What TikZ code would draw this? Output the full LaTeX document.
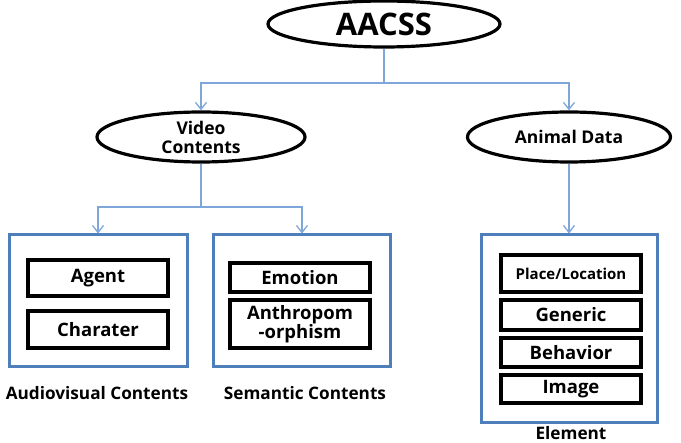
\documentclass[tikz,border=0pt]{standalone}
\usepackage{fontspec}
\setmainfont{Open Sans}
\usepackage{tikz}
\usetikzlibrary{arrows.meta,shapes.geometric}
\definecolor{link}{HTML}{7EA6D8}
\definecolor{frame}{HTML}{4F7FBA}

\begin{document}
\begin{tikzpicture}[x=1pt,y=-1pt,
  oval/.style={draw, ellipse, line width=3.2pt, inner sep=0pt, align=center, font=\bfseries\fontsize{17.5}{19}\selectfont},
  outer/.style={draw=frame, line width=3pt, inner sep=0pt},
  item/.style={draw, line width=3.2pt, minimum width=140pt, inner sep=0pt, align=center, font=\bfseries\fontsize{18.5}{19}\selectfont},
  arr/.style={-{Straight Barb[length=7pt,width=11pt]}, link, line width=1.3pt},
  lab/.style={font=\bfseries\fontsize{17.2}{18}\selectfont}]
  \useasboundingbox (0,0) rectangle (681,443);
  \node[oval, minimum width=232pt, minimum height=46pt, font=\bfseries\fontsize{31}{32}\selectfont] (aacss) at (384,24) {AACSS};
  \node[oval, minimum width=208pt, minimum height=50pt] (video) at (201,137) {Video\\Contents};
  \node[oval, minimum width=203pt, minimum height=50pt] (animal) at (569,137) {Animal Data};
  % outer boxes
  \node[outer, minimum width=178pt, minimum height=132pt] (av) at (98,301) {};
  \node[outer, minimum width=177pt, minimum height=132pt] (sem) at (302,301) {};
  \node[outer, minimum width=176pt, minimum height=188pt] (elem) at (569,329) {};
  % items
  \node[item, minimum height=36pt] (agent) at (98,278) {Agent};
  \node[item, minimum height=37pt] (charater) at (98,329.5) {Charater};
  \node[item, minimum height=29pt] (emotion) at (300,277.5) {Emotion};
  \node[item, minimum height=48pt, font=\bfseries\fontsize{18.5}{17}\selectfont] (anthro) at (300,324) {Anthropom\\-orphism};
  \node[item, minimum height=37pt, font=\bfseries\fontsize{15}{16}\selectfont] (place) at (571,273.5) {Place/Location};
  \node[item, minimum height=30pt] (generic) at (571,315) {Generic};
  \node[item, minimum height=29pt] (behavior) at (571,352.5) {Behavior};
  \node[item, minimum height=28pt] (image) at (571,389) {Image};
  % captions
  \node[lab] (avlab) at (97,393) {Audiovisual Contents};
  \node[lab] (semlab) at (305,393) {Semantic Contents};
  \node[lab] (elemlab) at (571,433) {Element};
  % links
  \coordinate (split1) at (384,83);
  \coordinate (split2) at (201,207);
  \draw[arr] (aacss.south) -- (split1) -| (video.north);
  \draw[arr] (split1) -| (animal.north);
  \draw[arr] (video.south) -- (split2) -| (av.north);
  \draw[arr] (split2) -| (sem.north);
  \draw[arr] (animal.south) -- (elem.north);
\end{tikzpicture}
\end{document}
